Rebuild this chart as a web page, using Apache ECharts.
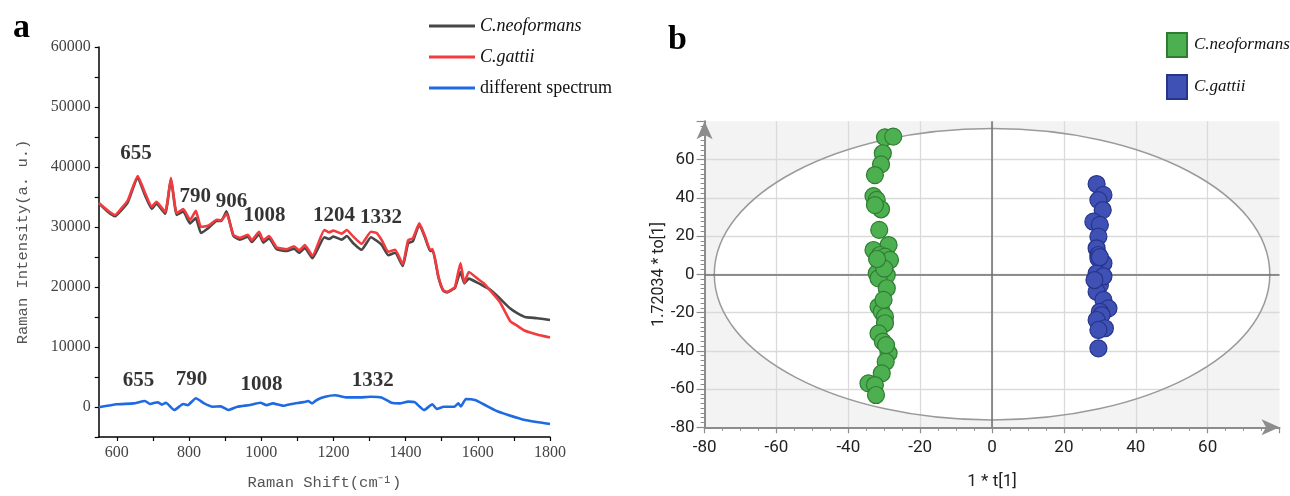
<!DOCTYPE html>
<html>
<head>
<meta charset="utf-8">
<script src="https://cdn.jsdelivr.net/npm/echarts@6/dist/echarts.min.js"></script>
<style>
html,body{margin:0;padding:0;background:#fff;}
#chart{width:1290px;height:496px;}
</style>
</head>
<body>
<div id="chart"></div>
<script>
// ---------- Panel a: Raman spectra ----------
const shift = [550,576,595,614,631,658,678,697,710,734,750,766,784,803,819,833,853,877,889,904,923,941,963,974,994,1006,1022,1043,1071,1091,1105,1121,1142,1175,1188,1200,1223,1237,1255,1278,1304,1320,1334,1352,1371,1392,1407,1420,1438,1454,1468,1475,1491,1504,1515,1528,1537,1552,1563,1575,1603,1615,1633,1661,1690,1708,1731,1764,1800];
const neoformans = [34000,32500,31800,32900,34200,38200,35300,33000,33900,32200,38000,32000,32600,30600,31500,29000,29800,31000,31000,32600,28500,27900,28400,27500,28800,27400,28100,26300,26000,26400,25700,26500,24800,28300,28000,28400,27900,28500,27300,26200,28300,27700,27000,25300,25700,23500,27300,27600,30400,28200,26000,26100,21600,19400,19100,19500,19900,22500,20600,21400,20600,20200,19600,18100,16400,15700,15000,14800,14500];
const gattii = [34000,32700,32000,33200,34500,38500,35700,33400,34200,32500,38200,32300,33000,31200,32700,30000,30200,31200,31100,32200,28700,28200,28700,27800,29200,27800,28500,26600,26300,26800,26100,27000,25200,29500,29100,29400,28900,29500,28400,27200,29200,29000,27800,25900,26200,23800,27800,28100,30600,28400,26200,26300,21700,19500,19200,19600,20000,24000,20700,22500,21200,20700,19500,17500,14300,13600,12700,12100,11600];
const diffShift = [550,600,646,678,692,713,725,736,759,784,796,819,842,865,888,909,934,969,998,1015,1032,1061,1084,1119,1130,1141,1154,1177,1205,1234,1269,1304,1333,1361,1384,1407,1425,1451,1474,1486,1506,1535,1546,1553,1567,1592,1615,1650,1684,1731,1800];
const diffSpectrum = [-50,450,600,1000,500,800,400,700,-500,500,300,1450,600,50,100,-500,50,330,700,300,600,200,500,830,1000,600,1170,1700,1950,1600,1600,1700,1600,700,600,900,800,-500,450,-330,50,50,600,100,1330,1170,500,-600,-1330,-2170,-2830];
const peakText = ['655','790','906','1008','1204','1332','655','790','1008','1332'];
const peakShift = [653,817,918,1009,1202,1332,660,807,1001,1309];
const peakIntensity = [42280,35050,34220,31830,31830,31620,4380,4500,3780,4380];
const xTicksA = [600,800,1000,1200,1400,1600,1800];
const xMinorA = [600,700,800,900,1000,1100,1200,1300,1400,1500,1600,1700,1800];
const yTicksA = [0,10000,20000,30000,40000,50000,60000];
const yMinorA = [-5000,0,5000,10000,15000,20000,25000,30000,35000,40000,45000,50000,55000,60000];

// ---------- Panel b: OPLS-DA score plot ----------
const neoX = [-29.8,-27.5,-30.4,-30.9,-32.6,-33.0,-32.1,-30.9,-32.6,-31.4,-28.8,-33.0,-31.2,-29.8,-31.0,-32.1,-29.3,-31.6,-29.3,-31.6,-30.7,-29.8,-29.8,-31.6,-30.4,-28.8,-29.6,-30.7,-34.4,-32.6,-32.3,-28.4,-30.0,-30.2,-29.5,-32.0];
const neoY = [71.6,72.0,63.3,57.5,51.9,40.9,38.9,34.0,36.2,23.2,15.3,12.7,10.1,9.2,5.4,0.5,-0.4,-2.1,-7.3,-16.9,-19.6,-22.2,-25.6,-30.9,-35.2,-41.3,-45.7,-51.8,-57.0,-57.9,-63.1,7.5,3.0,-13.4,-37.0,8.0];
const gatX = [29.1,31.0,29.6,30.8,28.2,30.0,29.6,29.1,29.6,31.0,29.6,29.1,30.0,29.1,31.0,32.4,30.0,30.5,29.1,31.4,29.6,29.6,30.0,31.0,28.5];
const gatY = [47.2,41.5,38.8,33.6,27.5,25.8,19.7,13.6,10.1,5.8,8.4,0.5,-5.6,-9.1,-13.4,-17.8,-19.6,-21.3,-23.9,-28.2,-29.1,-38.7,9.0,-1.0,-3.0];
const t2Ellipse = [0, 0, 77.3, 76.2]; // centre x, centre y, radius x, radius y

const pair = (xs, ys) => xs.map((x, i) => [x, ys[i]]);
const plain = v => String(v);

const serif = 'Liberation Serif';
const chart = echarts.init(document.getElementById('chart'), null, {renderer: 'canvas'});

function ellipseItem(fillOn) {
  return function (params, api) {
    const c = api.coord([api.value(0), api.value(1)]);
    const s = api.size([api.value(2), api.value(3)]);
    return {
      type: 'ellipse',
      shape: {cx: c[0], cy: c[1], rx: s[0], ry: s[1]},
      style: fillOn ? {fill: '#ffffff', stroke: null} : {fill: null, stroke: '#9a9a9a', lineWidth: 1.5}
    };
  };
}

const option = {
  animation: false,
  backgroundColor: '#ffffff',
  title: [
    {text: 'a', left: 8, top: 6, textStyle: {fontFamily: serif, fontWeight: 'bold', fontSize: 34, color: '#000'}},
    {text: 'b', left: 663, top: 18, textStyle: {fontFamily: serif, fontWeight: 'bold', fontSize: 34, color: '#000'}}
  ],
  legend: [
    {
      data: [
        {name: 'C.neoformans', textStyle: {fontStyle: 'italic'}},
        {name: 'C.gattii', textStyle: {fontStyle: 'italic'}},
        {name: 'different spectrum'}
      ],
      orient: 'vertical', left: 424, top: 11, icon: 'rect',
      itemWidth: 46, itemHeight: 3, itemGap: 11,
      textStyle: {fontFamily: serif, fontSize: 18, color: '#111', lineHeight: 20}
    },
    {
      data: ['b:C.neoformans', 'b:C.gattii'],
      formatter: n => n.replace(/^b:/, ''),
      orient: 'vertical', left: 1161, top: 27, icon: 'rect',
      itemWidth: 20, itemHeight: 24, itemGap: 16,
      textStyle: {fontFamily: serif, fontStyle: 'italic', fontSize: 17, color: '#111', padding: [0, 0, 0, 2]}
    }
  ],
  grid: [
    {left: 98.75, right: 740, top: 47, bottom: 59},
    {left: 704.6, right: 10.5, top: 121.3, bottom: 68.7, show: true, backgroundColor: '#f3f3f3', borderWidth: 0}
  ],
  xAxis: [
    {
      gridIndex: 0, type: 'value', min: 550, max: 1800,
      name: 'Raman Shift(cm⁻¹)', nameLocation: 'middle', nameGap: 38,
      nameTextStyle: {fontFamily: 'Liberation Mono', fontSize: 15.5, color: '#555'},
      axisLine: {onZero: false, lineStyle: {color: '#000', width: 1.5}},
      axisTick: {customValues: xMinorA, length: 4, lineStyle: {color: '#000', width: 1.2}},
      axisLabel: {customValues: xTicksA, formatter: plain, margin: 8, fontFamily: serif, fontSize: 16, color: '#444'},
      splitLine: {show: false}
    },
    {
      gridIndex: 1, type: 'value', min: -80, max: 80, interval: 20, z: 3,
      name: '1 * t[1]', nameLocation: 'middle', nameGap: 46,
      nameTextStyle: {fontFamily: 'Roboto', fontSize: 17, color: '#222'},
      axisLine: {onZero: false, symbol: ['none', 'arrow'], symbolSize: [12, 18], lineStyle: {color: '#8c8c8c', width: 2}},
      axisTick: {length: 6, lineStyle: {color: '#8c8c8c', width: 1.2}},
      minorTick: {show: true, splitNumber: 4, length: 3.5, lineStyle: {color: '#8c8c8c', width: 1}},
      axisLabel: {showMaxLabel: false, margin: 12, fontFamily: 'Roboto', fontSize: 17, color: '#222'},
      splitLine: {show: true, showMinLine: false, showMaxLine: false, lineStyle: {color: '#dadada', width: 1.3}}
    }
  ],
  yAxis: [
    {
      gridIndex: 0, type: 'value', min: -5000, max: 60000,
      name: 'Raman Intensity(a. u.)', nameLocation: 'middle', nameGap: 68,
      nameTextStyle: {fontFamily: 'Liberation Mono', fontSize: 15.5, color: '#555'},
      axisLine: {onZero: false, lineStyle: {color: '#000', width: 1.5}},
      axisTick: {customValues: yMinorA, length: 4, lineStyle: {color: '#000', width: 1.2}},
      axisLabel: {customValues: yTicksA, formatter: plain, margin: 8, fontFamily: serif, fontSize: 16, color: '#444'},
      splitLine: {show: false}
    },
    {
      gridIndex: 1, type: 'value', min: -80, max: 80, interval: 20, z: 3,
      name: '1.72034 * to[1]', nameLocation: 'middle', nameGap: 26,
      nameTextStyle: {fontFamily: 'Roboto', fontSize: 16, color: '#222'},
      axisLine: {onZero: false, symbol: ['none', 'arrow'], symbolSize: [12, 18], lineStyle: {color: '#8c8c8c', width: 2}},
      axisTick: {length: 8, lineStyle: {color: '#8c8c8c', width: 1.2}},
      minorTick: {show: true, splitNumber: 8, length: 4, lineStyle: {color: '#8c8c8c', width: 1}},
      axisLabel: {showMaxLabel: false, margin: 10, fontFamily: 'Roboto', fontSize: 17, color: '#222'},
      splitLine: {show: true, showMinLine: false, showMaxLine: false, lineStyle: {color: '#dadada', width: 1.3}}
    }
  ],
  series: [
    {
      name: 'C.neoformans', type: 'line', xAxisIndex: 0, yAxisIndex: 0,
      data: pair(shift, neoformans), showSymbol: false, symbol: 'none', smooth: 0.15,
      color: '#474747', lineStyle: {width: 2.6, color: '#474747', join: 'round'}
    },
    {
      name: 'C.gattii', type: 'line', xAxisIndex: 0, yAxisIndex: 0,
      data: pair(shift, gattii), showSymbol: false, symbol: 'none', smooth: 0.15,
      color: '#f23b3e', lineStyle: {width: 2.6, color: '#f23b3e', join: 'round'}
    },
    {
      name: 'different spectrum', type: 'line', xAxisIndex: 0, yAxisIndex: 0,
      data: pair(diffShift, diffSpectrum), showSymbol: false, symbol: 'none', smooth: 0.15,
      color: '#1e6ae3', lineStyle: {width: 2.6, color: '#1e6ae3', join: 'round'}
    },
    {
      name: 'peaks', type: 'scatter', xAxisIndex: 0, yAxisIndex: 0, silent: true,
      symbolSize: 1, itemStyle: {color: 'rgba(0,0,0,0)'},
      data: peakShift.map((x, i) => [x, peakIntensity[i], peakText[i]]),
      label: {show: true, position: 'inside', formatter: p => p.value[2],
        fontFamily: serif, fontWeight: 'bold', fontSize: 21, color: '#000'},
      z: 6
    },
    {
      name: 'ellipseFill', type: 'custom', xAxisIndex: 1, yAxisIndex: 1, silent: true, z: 1,
      data: [t2Ellipse], renderItem: ellipseItem(true)
    },
    {
      name: 'ellipseLine', type: 'custom', xAxisIndex: 1, yAxisIndex: 1, silent: true, z: 4,
      data: [t2Ellipse], renderItem: ellipseItem(false),
      markLine: {
        silent: true, symbol: ['none', 'none'], label: {show: false},
        lineStyle: {color: '#6e6e6e', width: 1.5, type: 'solid'},
        data: [{xAxis: 0}, {yAxis: 0}]
      }
    },
    {
      name: 'b:C.neoformans', type: 'scatter', xAxisIndex: 1, yAxisIndex: 1, z: 5,
      data: pair(neoX, neoY), symbolSize: 17,
      itemStyle: {color: '#4caf50', borderColor: '#2f7d32', borderWidth: 1.2, opacity: 1}
    },
    {
      name: 'b:C.gattii', type: 'scatter', xAxisIndex: 1, yAxisIndex: 1, z: 5,
      data: pair(gatX, gatY), symbolSize: 17,
      itemStyle: {color: '#3f51b5', borderColor: '#26348a', borderWidth: 1.2, opacity: 1}
    }
  ]
};
chart.setOption(option);
</script>
</body>
</html>
